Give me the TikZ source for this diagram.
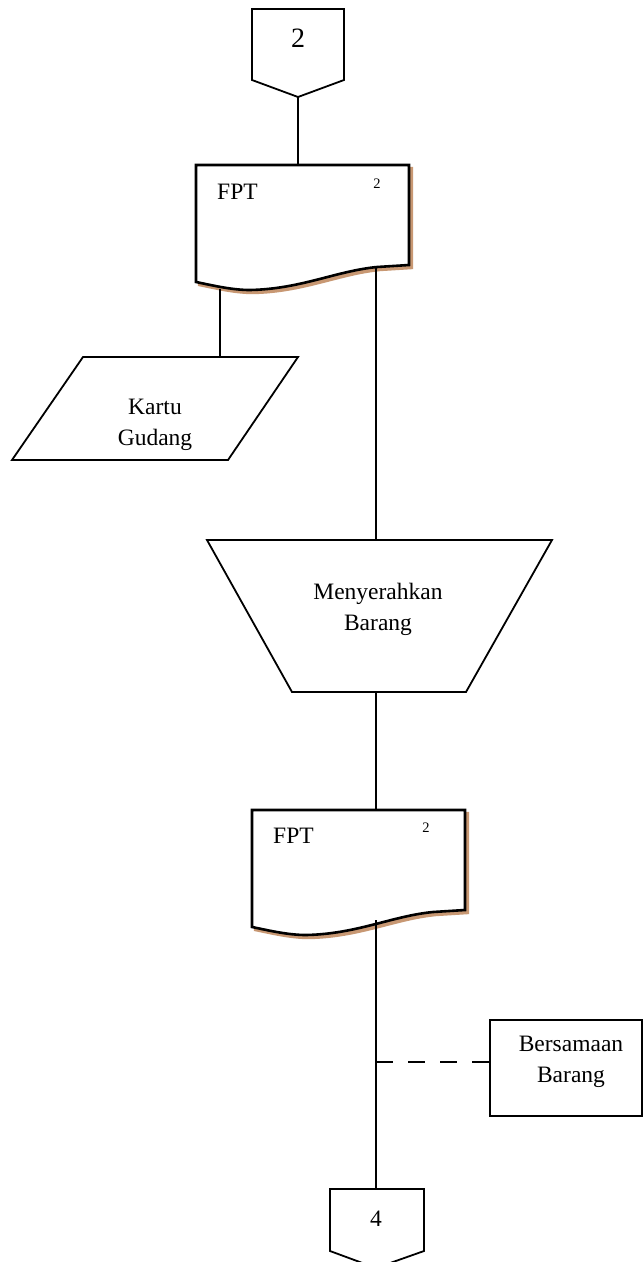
\documentclass[tikz,border=0pt]{standalone}
\usepackage{fontspec}
\setmainfont{Liberation Serif}
\definecolor{shadowtan}{RGB}{200,152,115}
\tikzset{
  shapeline/.style={draw=black, line width=1.8pt, line join=miter, fill=white},
  docline/.style={draw=black, line width=2.6pt, line join=miter, fill=white},
  docshadow/.style={fill=shadowtan, draw=shadowtan, line width=2.4pt},
  conn/.style={draw=black, line width=1.8pt},
  lbl/.style={font=\fontsize{23.5}{31}\selectfont, align=center, inner sep=0pt},
  bigtxt/.style={font=\fontsize{28}{32}\selectfont, inner sep=0pt},
  suptxt/.style={font=\fontsize{14.5}{16}\selectfont, inner sep=0pt, anchor=base},
  doctxt/.style={font=\fontsize{23.5}{28}\selectfont, inner sep=0pt, anchor=base west},
}
\newcommand\fptdocshape{%
  (0,0) -- (213,0) -- (213,100) -- (181,102)
  .. controls (140,106) and (105,124) .. (54,125)
  .. controls (35,125) and (15,120) .. (0,117) -- cycle}
\begin{document}
\begin{tikzpicture}[x=1pt,y=-1pt]
\useasboundingbox (0,0) rectangle (643,1262);
\clip (0,0) rectangle (643,1262);
\fill[white] (0,0) rectangle (643,1262);

% top off-page connector
\draw[shapeline] (252,9) -- (344,9) -- (344,80) -- (298,97) -- (252,80) -- cycle;
\node[bigtxt] (c2) at (298,38) {2};
\coordinate (c2bot) at (298,97);

% FPT document 1
\begin{scope}[shift={(196,165)}]
  \fill[docshadow, shift={(3,3)}] \fptdocshape;
  \draw[docline] \fptdocshape;
\end{scope}
\node[doctxt] (fpt1) at (217,199) {FPT};
\node[suptxt] (fpt1n) at (377,188) {2};
\coordinate (fpt1top) at (298,165);
\coordinate (fpt1botL) at (220,289);
\coordinate (fpt1botR) at (376,267);

% Kartu Gudang (parallelogram)
\draw[shapeline] (83,357) -- (298,357) -- (228,460) -- (12,460) -- cycle;
\node[lbl] (kartu) at (155,425) {Kartu\\Gudang};
\coordinate (kartutop) at (220,357);

% Manual operation (trapezoid)
\draw[shapeline] (207,540) -- (552,540) -- (466,692) -- (292,692) -- cycle;
\node[lbl] (serah) at (378,609) {Menyerahkan\\Barang};
\coordinate (serahtop) at (376,540);
\coordinate (serahbot) at (376,692);

% FPT document 2
\begin{scope}[shift={(252,810)}]
  \fill[docshadow, shift={(3,3)}] \fptdocshape;
  \draw[docline] \fptdocshape;
\end{scope}
\node[doctxt] (fpt2) at (273,843) {FPT};
\node[suptxt] (fpt2n) at (426,832) {2};
\coordinate (fpt2top) at (376,810);
\coordinate (fpt2bot) at (376,920);

% Bersamaan Barang box
\draw[shapeline] (490,1020) rectangle (642,1116);
\node[lbl] (sama) at (571,1062) {Bersamaan\\Barang};
\coordinate (samaL) at (490,1062);
\coordinate (tap) at (376,1062);

% bottom off-page connector
\draw[shapeline] (330,1189) -- (424,1189) -- (424,1251) -- (376,1268) -- (330,1251) -- cycle;
\node[lbl] (c4) at (376,1219) {4};
\coordinate (c4top) at (376,1189);

% connectors
\draw[conn] (c2bot) -- (fpt1top);
\draw[conn] (fpt1botL) -- (kartutop);
\draw[conn] (fpt1botR) -- (serahtop);
\draw[conn] (serahbot) -- (fpt2top);
\draw[conn] (fpt2bot) -- (c4top);
\draw[conn, dash pattern=on 17pt off 15pt] (tap) -- (samaL);
\end{tikzpicture}
\end{document}
